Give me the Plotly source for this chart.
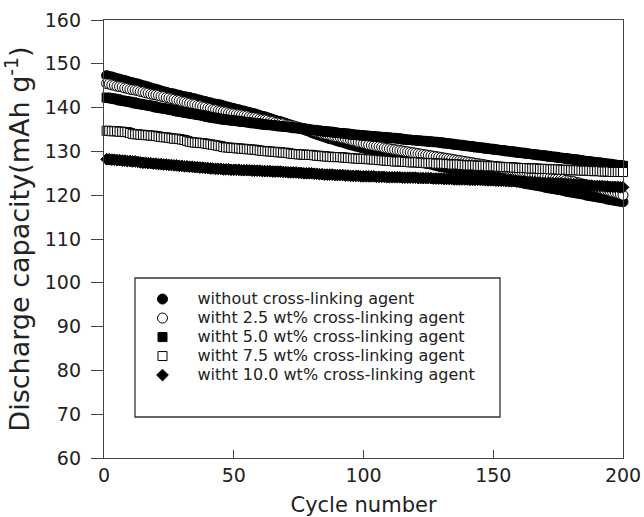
import plotly.graph_objects as go

cycles = list(range(1, 201))

without_agent = [
147.3,147.1,147.0,146.8,146.6,146.5,146.3,146.2,146.0,145.8,
145.7,145.5,145.4,145.2,145.0,144.9,144.7,144.5,144.3,144.2,
144.0,143.8,143.6,143.5,143.3,143.2,143.1,142.9,142.8,142.6,
142.5,142.4,142.3,142.1,142.0,141.8,141.7,141.5,141.4,141.2,
141.1,140.9,140.8,140.7,140.6,140.4,140.2,140.1,139.9,139.8,
139.6,139.5,139.3,139.2,139.0,138.9,138.7,138.6,138.4,138.2,
138.0,137.9,137.7,137.5,137.3,137.1,136.9,136.8,136.6,136.4,
136.2,136.0,135.8,135.6,135.4,135.2,135.0,134.8,134.6,134.3,
134.1,133.9,133.7,133.5,133.3,133.1,132.9,132.8,132.6,132.4,
132.2,132.1,131.9,131.7,131.5,131.4,131.2,131.1,130.9,130.8,
130.6,130.5,130.3,130.2,130.0,129.9,129.7,129.6,129.4,129.3,
129.1,129.0,128.9,128.7,128.6,128.4,128.3,128.1,128.0,127.9,
127.7,127.6,127.5,127.3,127.2,127.1,126.9,126.8,126.6,126.5,
126.4,126.2,126.1,126.0,125.9,125.7,125.6,125.5,125.4,125.2,
125.1,125.0,124.9,124.8,124.7,124.5,124.4,124.3,124.2,124.1,
124.0,123.9,123.8,123.6,123.5,123.4,123.3,123.2,123.1,123.0,
122.9,122.7,122.6,122.5,122.4,122.3,122.2,122.1,122.0,121.8,
121.7,121.6,121.5,121.4,121.3,121.2,121.1,120.9,120.8,120.7,
120.6,120.5,120.4,120.3,120.2,120.0,119.9,119.8,119.7,119.6,
119.5,119.4,119.3,119.1,119.0,118.9,118.8,118.7,118.6,118.5]

agent_2_5 = [
145.5,145.4,145.2,145.1,144.9,144.8,144.7,144.5,144.4,144.2,
144.1,144.0,143.9,143.7,143.6,143.4,143.3,143.1,143.0,142.9,
142.8,142.6,142.5,142.3,142.2,142.0,141.9,141.7,141.6,141.4,
141.3,141.1,141.0,140.8,140.7,140.5,140.4,140.2,140.1,139.9,
139.8,139.6,139.5,139.3,139.2,139.1,139.0,138.8,138.7,138.6,
138.5,138.4,138.3,138.2,138.1,137.9,137.8,137.7,137.6,137.4,
137.3,137.2,137.1,136.9,136.8,136.6,136.5,136.4,136.3,136.1,
136.0,135.9,135.8,135.6,135.5,135.3,135.2,135.0,134.9,134.7,
134.6,134.4,134.3,134.1,134.0,133.8,133.7,133.5,133.4,133.3,
133.2,133.0,132.9,132.7,132.6,132.4,132.3,132.1,132.0,131.8,
131.7,131.5,131.4,131.3,131.2,131.1,131.0,130.8,130.7,130.6,
130.5,130.4,130.3,130.2,130.1,130.0,129.9,129.8,129.7,129.6,
129.5,129.4,129.3,129.2,129.1,129.0,128.9,128.8,128.7,128.6,
128.5,128.4,128.3,128.2,128.1,128.0,127.9,127.8,127.7,127.6,
127.5,127.4,127.3,127.2,127.1,127.0,126.9,126.8,126.7,126.6,
126.5,126.3,126.2,126.1,126.0,125.9,125.8,125.7,125.6,125.5,
125.4,125.3,125.2,125.0,124.9,124.8,124.7,124.6,124.5,124.4,
124.3,124.1,124.0,123.9,123.8,123.7,123.6,123.4,123.3,123.2,
123.1,122.9,122.8,122.6,122.5,122.3,122.2,122.0,121.9,121.7,
121.6,121.4,121.2,121.1,120.9,120.7,120.6,120.4,120.2,120.0]

agent_5_0 = [
142.3,142.2,142.1,142.0,141.9,141.7,141.6,141.5,141.4,141.3,
141.2,141.0,140.9,140.8,140.7,140.6,140.5,140.4,140.3,140.1,
140.0,139.9,139.8,139.7,139.6,139.5,139.4,139.2,139.1,139.0,
138.9,138.8,138.7,138.6,138.5,138.4,138.3,138.2,138.1,137.9,
137.8,137.7,137.6,137.5,137.4,137.3,137.2,137.2,137.1,137.0,
137.0,136.9,136.8,136.7,136.7,136.6,136.5,136.4,136.4,136.3,
136.2,136.1,136.1,136.0,136.0,135.9,135.8,135.7,135.7,135.6,
135.6,135.5,135.4,135.3,135.3,135.2,135.2,135.1,135.0,134.9,
134.9,134.8,134.7,134.6,134.6,134.5,134.5,134.4,134.3,134.2,
134.2,134.1,134.1,134.0,133.9,133.8,133.8,133.7,133.7,133.6,
133.6,133.5,133.5,133.4,133.4,133.3,133.3,133.2,133.2,133.1,
133.1,133.0,133.0,132.9,132.8,132.7,132.7,132.6,132.6,132.5,
132.5,132.4,132.4,132.3,132.3,132.2,132.2,132.1,132.1,132.0,
131.9,131.8,131.8,131.7,131.6,131.5,131.5,131.4,131.3,131.2,
131.2,131.1,131.0,130.9,130.9,130.8,130.7,130.6,130.6,130.5,
130.4,130.3,130.3,130.2,130.1,130.0,130.0,129.9,129.8,129.7,
129.7,129.6,129.5,129.4,129.4,129.3,129.2,129.1,129.1,129.0,
128.9,128.8,128.8,128.7,128.6,128.5,128.5,128.4,128.3,128.2,
128.2,128.1,128.0,127.9,127.8,127.8,127.7,127.6,127.5,127.5,
127.4,127.3,127.2,127.2,127.1,127.0,126.9,126.9,126.8,126.7]

agent_7_5 = [
134.7,134.7,134.6,134.6,134.6,134.5,134.5,134.4,134.4,134.2,
134.0,133.9,133.9,133.8,133.8,133.7,133.7,133.6,133.6,133.5,
133.4,133.3,133.2,133.2,133.1,133.0,132.9,132.9,132.8,132.7,
132.6,132.4,132.2,132.1,132.0,132.0,131.9,131.9,131.8,131.7,
131.6,131.5,131.4,131.3,131.2,131.0,130.9,130.9,130.8,130.8,
130.7,130.7,130.6,130.6,130.5,130.5,130.4,130.4,130.3,130.2,
130.1,130.1,130.0,130.0,129.9,129.9,129.8,129.8,129.7,129.7,
129.6,129.5,129.4,129.4,129.3,129.3,129.3,129.2,129.2,129.2,
129.1,129.0,129.0,128.9,128.9,128.8,128.8,128.7,128.7,128.7,
128.7,128.6,128.6,128.5,128.5,128.4,128.4,128.3,128.3,128.3,
128.3,128.2,128.2,128.1,128.1,128.0,128.0,127.9,127.9,127.8,
127.8,127.7,127.7,127.7,127.7,127.6,127.6,127.5,127.5,127.5,
127.5,127.4,127.4,127.3,127.3,127.3,127.3,127.2,127.2,127.2,
127.2,127.1,127.1,127.0,127.0,127.0,127.0,126.9,126.9,126.8,
126.8,126.8,126.8,126.7,126.7,126.7,126.7,126.6,126.6,126.6,
126.6,126.5,126.5,126.4,126.4,126.4,126.4,126.3,126.3,126.2,
126.2,126.2,126.2,126.1,126.1,126.1,126.1,126.0,126.0,126.0,
126.0,125.9,125.9,125.9,125.9,125.8,125.8,125.8,125.8,125.7,
125.7,125.7,125.7,125.6,125.6,125.6,125.6,125.5,125.5,125.5,
125.5,125.4,125.4,125.4,125.4,125.3,125.3,125.3,125.3,125.3]

agent_10_0 = [
128.2,128.2,128.1,128.1,128.0,128.0,127.9,127.9,127.8,127.8,
127.7,127.7,127.6,127.5,127.4,127.4,127.3,127.3,127.2,127.2,
127.1,127.1,127.0,127.0,126.9,126.9,126.8,126.8,126.7,126.7,
126.6,126.6,126.5,126.5,126.4,126.4,126.3,126.3,126.2,126.2,
126.1,126.1,126.0,126.0,126.0,125.9,125.9,125.9,125.8,125.8,
125.8,125.8,125.7,125.7,125.7,125.7,125.6,125.6,125.6,125.6,
125.5,125.5,125.5,125.5,125.4,125.4,125.4,125.4,125.3,125.3,
125.2,125.2,125.2,125.2,125.1,125.1,125.0,125.0,125.0,125.0,
124.9,124.9,124.8,124.8,124.7,124.7,124.7,124.7,124.6,124.6,
124.6,124.6,124.5,124.5,124.4,124.4,124.4,124.4,124.3,124.3,
124.3,124.3,124.3,124.3,124.2,124.2,124.2,124.2,124.1,124.1,
124.1,124.1,124.1,124.1,124.0,124.0,124.0,124.0,124.0,124.0,
123.9,123.9,123.9,123.9,123.9,123.9,123.8,123.8,123.8,123.8,
123.7,123.7,123.7,123.7,123.6,123.6,123.6,123.6,123.6,123.6,
123.5,123.5,123.5,123.5,123.5,123.5,123.4,123.4,123.4,123.4,
123.3,123.3,123.3,123.3,123.2,123.2,123.2,123.2,123.1,123.1,
123.1,123.1,123.0,123.0,123.0,123.0,122.9,122.9,122.8,122.8,
122.8,122.8,122.7,122.7,122.7,122.7,122.6,122.6,122.5,122.5,
122.4,122.4,122.4,122.4,122.3,122.3,122.2,122.2,122.1,122.1,
122.1,122.1,122.0,122.0,121.9,121.9,121.9,121.9,121.8,121.8]

series_names = [
    "without cross-linking agent",
    "witht 2.5 wt% cross-linking agent",
    "witht 5.0 wt% cross-linking agent",
    "witht 7.5 wt% cross-linking agent",
    "witht 10.0 wt% cross-linking agent",
]
series_values = [without_agent, agent_2_5, agent_5_0, agent_7_5, agent_10_0]
symbols = ["circle", "circle", "square", "square", "diamond"]
fills = ["black", "white", "black", "white", "black"]
sizes = [10, 10, 9, 9, 9]

x_ticks = [0, 50, 100, 150, 200]
y_ticks = [60, 70, 80, 90, 100, 110, 120, 130, 140, 150, 160]

FONT = "DejaVu Sans, Verdana, sans-serif"
TXT = "#222222"

fig = go.Figure()
for name, vals, sym, fc, sz in zip(series_names, series_values, symbols, fills, sizes):
    fig.add_trace(go.Scatter(
        x=cycles, y=vals, mode="markers",
        name='<span style="font-size:16px">' + name + '</span>',
        marker=dict(symbol=sym, size=sz, color=fc,
                    line=dict(color="black", width=1)),
        cliponaxis=False,
    ))

axis_common = dict(showgrid=False, zeroline=False, showline=True, mirror=True,
                   automargin=False,
                   linecolor="#444444", linewidth=1.3, tickcolor="#444444",
                   tickwidth=1.3, tickfont=dict(family=FONT, size=19, color=TXT))

fig.update_xaxes(range=[0, 200], tickvals=x_ticks, ticks="inside", ticklen=8,
                 title=dict(text="Cycle number", font=dict(family=FONT, size=21, color=TXT), standoff=13),
                 **axis_common)
fig.update_yaxes(range=[60, 160], tickvals=y_ticks, ticks="outside", ticklen=12,
                 ticklabelstandoff=6,
                 title=dict(text="Discharge capacity(mAh g<sup>-1</sup>)",
                            font=dict(family=FONT, size=27, color=TXT), standoff=8),
                 **axis_common)

fig.add_shape(type="rect", xref="paper", yref="paper",
              x0=0.0597, x1=0.763, y0=0.0936, y1=0.411,
              line=dict(color="#333333", width=1.3), fillcolor="white", layer="below")

fig.update_layout(
    width=644, height=517,
    margin=dict(l=104, r=21, t=20, b=59),
    paper_bgcolor="white", plot_bgcolor="white",
    showlegend=True,
    legend=dict(x=0.0453, y=0.396, xanchor="left", yanchor="top",
                bgcolor="rgba(0,0,0,0)", borderwidth=0, itemwidth=60,
                font=dict(family=FONT, size=11.5, color=TXT),
                tracegroupgap=0),
)

fig.write_html("out.html", config={"displayModeBar": False},
               post_script="document.body.style.margin='0px';")
